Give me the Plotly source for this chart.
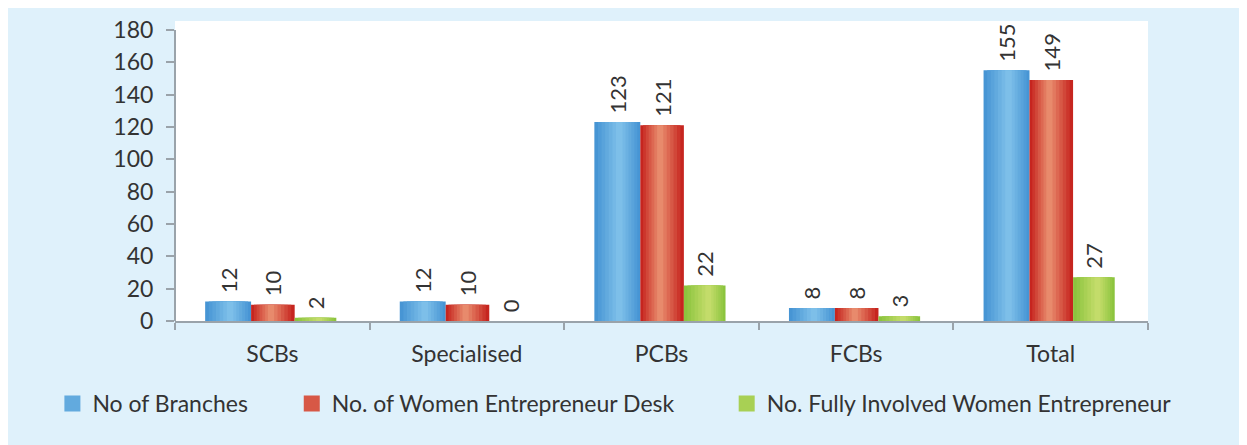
import plotly.graph_objects as go

# data
categorias = ["SCBs", "Specialised", "PCBs", "FCBs", "Total"]
no_branches = [12, 12, 123, 8, 155]
women_desk = [10, 10, 121, 8, 149]
fully_involved = [2, 0, 22, 3, 27]
yticks = [0, 20, 40, 60, 80, 100, 120, 140, 160, 180]

series = [
    ("No of Branches", no_branches, "#4795d4", "#7dbfe9", -0.345, 0.236, 0.55),
    ("No. of Women Entrepreneur Desk", women_desk, "#c6251f", "#e88a6c", -0.109, 0.224, 0.45),
    ("No. Fully Involved Women Entrepreneur", fully_involved, "#8cc43e", "#c3dc6a", 0.115, 0.214, 0.6),
]
legend_x = [-0.126, 0.12, 0.567]

FONT = "Lato"
TXT = "#333333"
GRIS = "#9aa3aa"
FS = 23


def mezcla(c1, c2, t):
    a = [int(c1[i:i + 2], 16) for i in (1, 3, 5)]
    b = [int(c2[i:i + 2], 16) for i in (1, 3, 5)]
    return "#%02x%02x%02x" % tuple(round(a[i] + (b[i] - a[i]) * t) for i in range(3))


fig = go.Figure()
capas = 7
for n, (nombre, valores, borde, centro, off, ancho, h) in enumerate(series):
    # gradiente horizontal a base de capas superpuestas
    for k in range(capas):
        f = 1 - k / capas
        izq = h * ancho * f
        der = (1 - h) * ancho * f
        c = off + h * ancho
        fig.add_trace(go.Bar(
            x=categorias,
            y=valores,
            offset=c - izq,
            width=izq + der,
            marker=dict(color=mezcla(borde, centro, k / (capas - 1)), line=dict(width=0)),
            # espacio duro delante para separar la etiqueta de la barra
            text=["\u00a0" + str(v) for v in valores] if k == 0 else None,
            textposition="outside" if k == 0 else "none",
            textangle=-90,
            textfont=dict(size=22, color=TXT, family=FONT),
            constraintext="none",
            cliponaxis=False,
            showlegend=False,
            hoverinfo="skip" if k else None,
        ))
    # entrada de leyenda
    fig.add_trace(go.Scatter(
        x=[None], y=[None], mode="markers", name=nombre,
        marker=dict(symbol="square", size=16, color=mezcla(borde, centro, 0.5)),
        legend="legend" if n == 0 else f"legend{n + 1}",
    ))

ley = dict(orientation="h", y=-0.275, yanchor="middle", xanchor="left",
           bgcolor="rgba(0,0,0,0)", font=dict(size=FS, color=TXT, family=FONT))

# la página deja 8px de margen arriba y a la izquierda
fig.update_layout(
    width=1247, height=445,
    margin=dict(l=167, r=107, t=7, b=132),
    paper_bgcolor="#dff1fb",
    plot_bgcolor="white",
    barmode="overlay",
    font=dict(family=FONT, size=FS, color=TXT),
    legend=dict(ley, x=legend_x[0]),
    legend2=dict(ley, x=legend_x[1]),
    legend3=dict(ley, x=legend_x[2]),
    xaxis=dict(
        type="category", categoryorder="array", categoryarray=categorias,
        range=[-0.5, 4.5], showline=True, linecolor=GRIS, linewidth=2,
        ticks="outside", tickson="boundaries", ticklen=7, tickcolor=GRIS, tickwidth=2,
        tickfont=dict(size=FS, color=TXT), ticklabelstandoff=11, showgrid=False,
    ),
    yaxis=dict(
        range=[0, 185.5], tickvals=yticks, showline=False, showgrid=False, zeroline=False,
        ticks="outside", ticklen=8, tickcolor=GRIS, tickwidth=1.5,
        tickfont=dict(size=FS, color=TXT), ticklabelstandoff=8,
    ),
    shapes=[
        dict(type="line", xref="paper", yref="y", x0=0, x1=0, y0=0, y1=180,
             line=dict(color=GRIS, width=2)),
    ],
)

fig.write_html("out.html")
